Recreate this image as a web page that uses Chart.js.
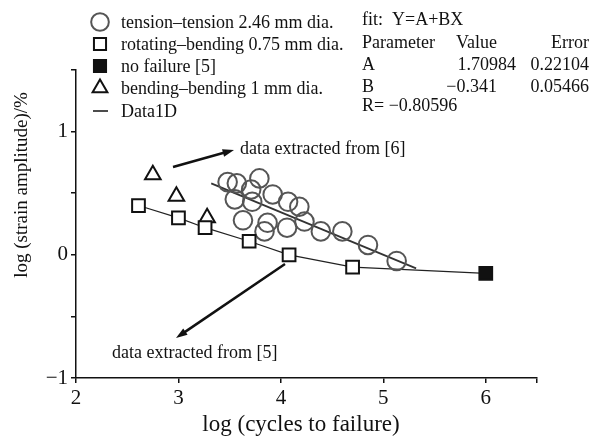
<!DOCTYPE html>
<html>
<head>
<meta charset="utf-8">
<script src="https://cdn.jsdelivr.net/npm/chart.js@4.4.1/dist/chart.umd.min.js"></script>
<style>
    html, body { margin: 0; padding: 0; background: #fff; }
</style>
</head>
<body>
<canvas id="chart" width="590" height="437"></canvas>
<script>
// tension-tension 2.46 mm dia. (open grey circles)
const tensionX = [3.48, 3.57, 3.79, 3.71, 3.55, 3.72, 3.92, 4.07, 4.18, 3.63, 3.87, 4.06, 4.23, 3.84, 4.39, 4.60, 4.85, 5.13];
const tensionY = [0.59, 0.58, 0.62, 0.53, 0.45, 0.43, 0.49, 0.43, 0.39, 0.28, 0.26, 0.22, 0.27, 0.19, 0.19, 0.19, 0.08, -0.05];
// fit Y=A+BX, end points as drawn
const fitX = [3.32, 5.32];
const fitY = [0.58, -0.11];
// rotating-bending 0.75 mm dia. (open squares)
const rotX = [2.61, 3.00, 3.26, 3.69, 4.08, 4.70];
const rotY = [0.40, 0.30, 0.22, 0.11, 0.00, -0.10];
// no failure [5]
const runoutX = [6.00];
const runoutY = [-0.15];
// bending-bending 1 mm dia. (open triangles)
const bendX = [2.75, 2.98, 3.28];
const bendY = [0.65, 0.475, 0.30];
// Data1D line (squares + run-out)
const lineX = [2.61, 3.00, 3.26, 3.69, 4.08, 4.70, 6.00];
const lineY = [0.40, 0.30, 0.22, 0.11, 0.00, -0.10, -0.15];

// tick marks, labelled ones in xLabels / yLabels
const xTickVals = [2, 3, 4, 5, 6, 6.5];
const xLabels = [2, 3, 4, 5, 6];
const yTickVals = [-1, -0.5, 0, 0.5, 1, 1.5];
const yLabels = [-1, 0, 1];

const fitRows = [
    ['Parameter', 'Value', 'Error'],
    ['A', '1.70984', '0.22104'],
    ['B', '\u22120.341', '0.05466']
];

const serif = '"Liberation Serif", "Times New Roman", serif';

function pts(xs, ys) {
    return xs.map((x, i) => ({x: x, y: ys[i]}));
}

function fmt(v) {
    return v < 0 ? '\u2212' + Math.abs(v) : String(v);
}

// 화살표
function arrow(ctx, x1, y1, x2, y2) {
    const a = Math.atan2(y2 - y1, x2 - x1);
    const head = 12;
    ctx.save();
    ctx.strokeStyle = '#111';
    ctx.fillStyle = '#111';
    ctx.lineWidth = 2.5;
    ctx.beginPath();
    ctx.moveTo(x1, y1);
    ctx.lineTo(x2 - head * 0.8 * Math.cos(a), y2 - head * 0.8 * Math.sin(a));
    ctx.stroke();
    ctx.beginPath();
    ctx.moveTo(x2, y2);
    ctx.lineTo(x2 - head * Math.cos(a - 0.33), y2 - head * Math.sin(a - 0.33));
    ctx.lineTo(x2 - head * Math.cos(a + 0.33), y2 - head * Math.sin(a + 0.33));
    ctx.closePath();
    ctx.fill();
    ctx.restore();
}

const extras = {
    id: 'extras',
    afterDraw(chart) {
        const ctx = chart.ctx;
        const ds = chart.data.datasets;
        ctx.save();

        // legend
        const legendItems = [ds[0], ds[2], ds[3], ds[4], ds[5]];
        const rowsY = [22, 44, 66, 88, 111];
        ctx.font = '18px ' + serif;
        ctx.textBaseline = 'middle';
        ctx.textAlign = 'left';
        legendItems.forEach(function (d, i) {
            const y = rowsY[i];
            if (d.showLine) {
                ctx.strokeStyle = '#111';
                ctx.lineWidth = 1.5;
                ctx.beginPath();
                ctx.moveTo(93, y);
                ctx.lineTo(108, y);
                ctx.stroke();
            } else {
                ctx.strokeStyle = d.borderColor;
                ctx.fillStyle = d.backgroundColor;
                ctx.lineWidth = d.borderWidth;
                Chart.helpers.drawPoint(ctx, {
                    pointStyle: d.pointStyle, radius: d.pointRadius * 0.95,
                    rotation: 0, borderWidth: d.borderWidth
                }, 100, y);
            }
            ctx.fillStyle = '#111';
            ctx.fillText(d.label, 121, y + 1);
        });

        // fit table
        ctx.fillText('fit:  Y=A+BX', 362, 20);
        fitRows.forEach(function (r, i) {
            const y = 43 + i * 22;
            ctx.textAlign = 'left';
            ctx.fillText(r[0], 362, y);
            if (i === 0) {
                ctx.fillText(r[1], 456, y);
            } else {
                ctx.textAlign = 'right';
                ctx.fillText(r[1], i === 1 ? 516 : 497, y);
            }
            ctx.textAlign = 'right';
            ctx.fillText(r[2], 589, y);
        });
        ctx.textAlign = 'left';
        ctx.fillText('R= \u22120.80596', 362, 106);

        // annotations
        arrow(ctx, 173, 167, 234, 150);
        arrow(ctx, 285, 264, 176, 338);
        ctx.fillText('data extracted from [6]', 240, 149);
        ctx.fillText('data extracted from [5]', 112, 353);

        // axis titles
        ctx.font = '23px ' + serif;
        ctx.textAlign = 'center';
        ctx.fillText('log (cycles to failure)', 301, 425);
        ctx.font = '19px ' + serif;
        ctx.translate(22, 185);
        ctx.rotate(-Math.PI / 2);
        ctx.fillText('log (strain amplitude)/%', 0, 0);
        ctx.restore();
    }
};

const axisCommon = {
    type: 'linear',
    grid: {drawOnChartArea: false, drawTicks: true, tickLength: 5, color: '#111', lineWidth: 1.5},
    border: {display: true, color: '#111', width: 1.5},
    title: {display: false}
};

new Chart(document.getElementById('chart'), {
    type: 'scatter',
    data: {
        datasets: [
            {
                label: 'tension\u2013tension 2.46 mm dia.',
                data: pts(tensionX, tensionY),
                pointStyle: 'circle', pointRadius: 9.3,
                borderColor: '#555', backgroundColor: 'rgba(0,0,0,0)', borderWidth: 2,
                order: 2
            },
            {
                label: 'fit',
                data: pts(fitX, fitY),
                showLine: true, pointRadius: 0,
                borderColor: '#333', borderWidth: 1.8,
                order: 8
            },
            {
                label: 'rotating\u2013bending 0.75 mm dia.',
                data: pts(rotX, rotY),
                pointStyle: 'rect', pointRadius: 9,
                borderColor: '#111', backgroundColor: '#fff', borderWidth: 2,
                order: 1
            },
            {
                label: 'no failure [5]',
                data: pts(runoutX, runoutY),
                pointStyle: 'rect', pointRadius: 9,
                borderColor: '#111', backgroundColor: '#111', borderWidth: 2,
                order: 1
            },
            {
                label: 'bending\u2013bending 1 mm dia.',
                data: pts(bendX, bendY),
                pointStyle: 'triangle', pointRadius: 9,
                borderColor: '#111', backgroundColor: '#fff', borderWidth: 2,
                order: 1
            },
            {
                label: 'Data1D',
                data: pts(lineX, lineY),
                showLine: true, pointRadius: 0,
                borderColor: '#222', borderWidth: 1.2,
                order: 9
            }
        ]
    },
    options: {
        responsive: false,
        devicePixelRatio: 1,
        animation: false,
        layout: {padding: {top: 70, right: 53, left: 0, bottom: 0}},
        plugins: {legend: {display: false}, tooltip: {enabled: false}},
        scales: {
            x: Object.assign({}, axisCommon, {
                min: 2, max: 6.5,
                ticks: {
                    autoSkip: false, color: '#111', padding: 3,
                    font: {family: serif, size: 21},
                    callback: v => xLabels.includes(v) ? fmt(v) : ''
                },
                afterBuildTicks: s => { s.ticks = xTickVals.map(v => ({value: v})); },
                afterFit: s => { s.height = 59; }
            }),
            y: Object.assign({}, axisCommon, {
                min: -1, max: 1.5,
                ticks: {
                    autoSkip: false, color: '#111', padding: 3,
                    font: {family: serif, size: 21},
                    callback: v => yLabels.includes(v) ? fmt(v) : ''
                },
                afterBuildTicks: s => { s.ticks = yTickVals.map(v => ({value: v})); },
                afterFit: s => { s.width = 76; }
            })
        }
    },
    plugins: [extras]
});
</script>
</body>
</html>
